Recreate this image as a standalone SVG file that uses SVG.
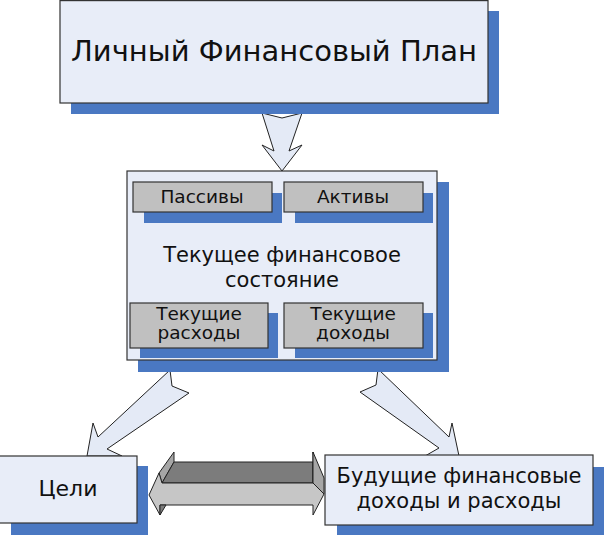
<svg xmlns="http://www.w3.org/2000/svg" width="604" height="535" viewBox="0 0 604 535">
<style>
.shadow{fill:#4a78c2}
.box{fill:#e8edf8;stroke:#333;stroke-width:1.2}
.gbox{fill:#c0c0c0;stroke:#333;stroke-width:1.2}
.arrow{fill:#e4eaf6;stroke:#222;stroke-width:1}
text{font-family:"DejaVu Sans",Verdana,sans-serif;fill:#111;text-anchor:middle}
.t1{font-size:29px}
.t2{font-size:21px}
.t3{font-size:18.5px}
.dark{fill:#7c7c7c;stroke:#222;stroke-width:1}
.mid{fill:#a6a6a6;stroke:#222;stroke-width:1}
.light{fill:#c6c6c6;stroke:#222;stroke-width:1}
</style>
<rect width="604" height="535" fill="#fff"/>
<g id="connectors">
<polygon class="arrow" points="262,113 282,118 302,113 289,151 302,145 282,171 262,145 274,151"/>
<polygon class="arrow" points="170,370 172,386 189,393 107,449 122,456 87,456 93,423 98,437"/>
<polygon class="arrow" points="378,369 376,385 360,392 439,448 425,456 459,456 452,423 449,437"/>
<g id="double-arrow">
<polygon class="mid" points="159,473 174,452 174,462 162,483"/>
<polygon class="dark" points="162,483 174,462 313,462 313,483"/>
<polygon class="dark" points="313,452 313,483 318,483"/>
<polygon class="mid" points="313,452 324,478 324,494 313,483"/>
<polygon class="light" points="149,495 159,473 162,483 313,483 324,494 313,515 313,505 160,505 160,515"/>
<polygon class="dark" points="160,505 166,505 160,515"/>
</g>
</g>
<g id="plan">
<rect class="shadow" x="71" y="11" width="428" height="103"/>
<rect class="box" x="60" y="0.6" width="428" height="102.4"/>
<text class="t1" x="274" y="61">Личный Финансовый План</text>
</g>
<g id="current">
<rect class="shadow" x="138" y="182" width="311" height="190"/>
<rect class="box" x="127" y="171" width="310" height="189"/>
<text class="t2" x="282" y="262">Текущее финансовое</text>
<text class="t2" x="282" y="287">состояние</text>
</g>
<g id="liabilities">
<rect class="shadow" x="144" y="193" width="138" height="30"/>
<rect class="gbox" x="133" y="182" width="139" height="30"/>
<text class="t3" x="202" y="203">Пассивы</text>
</g>
<g id="assets">
<rect class="shadow" x="295" y="193" width="138" height="30"/>
<rect class="gbox" x="284" y="182" width="139" height="30"/>
<text class="t3" x="353" y="203">Активы</text>
</g>
<g id="expenses">
<rect class="shadow" x="140" y="313" width="138" height="45"/>
<rect class="gbox" x="130" y="303" width="138" height="45"/>
<text class="t3" x="199" y="320">Текущие</text>
<text class="t3" x="199" y="339">расходы</text>
</g>
<g id="income">
<rect class="shadow" x="295" y="313" width="138" height="45"/>
<rect class="gbox" x="284" y="303" width="139" height="45"/>
<text class="t3" x="353" y="320">Текущие</text>
<text class="t3" x="353" y="339">доходы</text>
</g>
<g id="goals">
<rect class="shadow" x="11" y="466" width="137" height="70"/>
<rect class="box" x="-1" y="456" width="138" height="67"/>
<text class="t2" x="68" y="496" style="font-size:22px">Цели</text>
</g>
<g id="future">
<rect class="shadow" x="337" y="467" width="268" height="69"/>
<rect class="box" x="325" y="455" width="268" height="70"/>
<text class="t2" x="459" y="483">Будущие финансовые</text>
<text class="t2" x="459" y="508">доходы и расходы</text>
</g>
</svg>
